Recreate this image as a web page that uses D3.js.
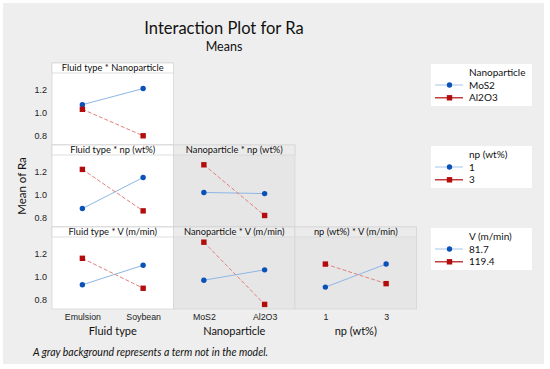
<!DOCTYPE html>
<html>
<head>
<meta charset="utf-8">
<script src="https://cdn.jsdelivr.net/npm/d3@7"></script>
<style>
  body { margin: 0; background: #fff; }
  svg { display: block; font-family: Lato, "Open Sans", sans-serif; }
</style>
</head>
<body>
<svg id="chart" width="550" height="369"></svg>
<script>
// factor levels
const fluidTypes = ["Emulsion", "Soybean"];
const nanoparticles = ["MoS2", "Al2O3"];
const npLevels = ["1", "3"];
const speedLevels = ["81.7", "119.4"];
const yTicks = [0.8, 1.0, 1.2];

// means (one array per trace, in x-level order)
const fluidByNano = { MoS2: [1.07, 1.21], Al2O3: [1.03, 0.80] };
const fluidByNp = { "1": [0.88, 1.15], "3": [1.22, 0.86] };
const fluidBySpeed = { "81.7": [0.93, 1.10], "119.4": [1.16, 0.90] };
const nanoByNp = { "1": [1.02, 1.01], "3": [1.26, 0.82] };
const nanoBySpeed = { "81.7": [0.97, 1.06], "119.4": [1.30, 0.76] };
const npBySpeed = { "81.7": [0.91, 1.11], "119.4": [1.11, 0.94] };

const panels = [
  { row: 0, col: 0, title: "Fluid type * Nanoparticle", x: fluidTypes, traces: nanoparticles, data: fluidByNano, inModel: true },
  { row: 1, col: 0, title: "Fluid type * np (wt%)", x: fluidTypes, traces: npLevels, data: fluidByNp, inModel: true },
  { row: 2, col: 0, title: "Fluid type * V (m/min)", x: fluidTypes, traces: speedLevels, data: fluidBySpeed, inModel: true },
  { row: 1, col: 1, title: "Nanoparticle * np (wt%)", x: nanoparticles, traces: npLevels, data: nanoByNp, inModel: false },
  { row: 2, col: 1, title: "Nanoparticle * V (m/min)", x: nanoparticles, traces: speedLevels, data: nanoBySpeed, inModel: false },
  { row: 2, col: 2, title: "np (wt%) * V (m/min)", x: npLevels, traces: speedLevels, data: npBySpeed, inModel: false }
];

const legends = [
  { row: 0, title: "Nanoparticle", levels: nanoparticles },
  { row: 1, title: "np (wt%)", levels: npLevels },
  { row: 2, title: "V (m/min)", levels: speedLevels }
];

const colLabels = ["Fluid type", "Nanoparticle", "np (wt%)"];

const LAYOUT = {
  left: 52, top: 63, colW: 121.5, rowH: 82, strip: 10,
  legendX: 431, legendW: 101, legendH: 42
};
const STYLE = [
  { color: "#0a52b8", line: "#8db6e6", dash: null, shape: "circle" },
  { color: "#b30c0c", line: "#e2807f", dash: "4,2", shape: "square" }
];

const svg = d3.select("#chart");
svg.append("rect").attr("x", 3).attr("y", 3).attr("width", 541).attr("height", 361)
  .attr("fill", "#eeeeee");

svg.append("text").attr("x", 224).attr("y", 34).attr("text-anchor", "middle")
  .attr("font-size", 16.5).attr("fill", "#111").text("Interaction Plot for Ra");
svg.append("text").attr("x", 224).attr("y", 50.5).attr("text-anchor", "middle")
  .attr("font-size", 12.5).attr("fill", "#111").text("Means");

svg.append("text").attr("transform", "translate(26,186) rotate(-90)")
  .attr("text-anchor", "middle").attr("font-size", 11.5).attr("fill", "#111").text("Mean of Ra");

const plotH = LAYOUT.rowH - LAYOUT.strip;

function drawMarker(g, shape, x, y, color) {
  if (shape === "circle") {
    g.append("circle").attr("cx", x).attr("cy", y).attr("r", 2.7).attr("fill", color);
  } else {
    g.append("rect").attr("x", x - 2.7).attr("y", y - 2.7).attr("width", 5.4).attr("height", 5.4)
      .attr("fill", color);
  }
}

panels.forEach(p => {
  const x0 = LAYOUT.left + p.col * LAYOUT.colW;
  const y0 = LAYOUT.top + p.row * LAYOUT.rowH;
  const g = svg.append("g").attr("transform", `translate(${x0},${y0})`);

  // strip + plot area
  g.append("rect").attr("width", LAYOUT.colW).attr("height", LAYOUT.rowH)
    .attr("fill", p.inModel ? "#ffffff" : "#e6e6e6").attr("stroke", "#d6d6d6").attr("stroke-width", 0.8);
  g.append("rect").attr("width", LAYOUT.colW).attr("height", LAYOUT.strip)
    .attr("fill", p.inModel ? "#ffffff" : "#ebebeb").attr("stroke", "#d6d6d6").attr("stroke-width", 0.8);
  g.append("text").attr("x", LAYOUT.colW / 2).attr("y", LAYOUT.strip - 1.8)
    .attr("text-anchor", "middle").attr("font-size", 9.3).attr("fill", "#111").text(p.title);

  const x = d3.scalePoint().domain(p.x).range([0, LAYOUT.colW]).padding(0.5);
  const y = d3.scaleLinear().domain([0.72, 1.345]).range([LAYOUT.strip + plotH, LAYOUT.strip]);

  if (p.col === 0) {
    const ax = g.append("g").call(d3.axisLeft(y).tickValues(yTicks).tickFormat(d3.format(".1f")).tickSize(0).tickPadding(5));
    ax.select(".domain").remove();
    ax.selectAll("text").attr("font-size", 9).attr("fill", "#222").attr("font-family", null);
  }
  if (p.row === 2) {
    const ax = g.append("g").attr("transform", `translate(0,${LAYOUT.rowH})`)
      .call(d3.axisBottom(x).tickSize(0).tickPadding(5));
    ax.select(".domain").remove();
    ax.selectAll("text").attr("font-size", 8.8).attr("fill", "#222").attr("font-family", null);
  }

  const line = d3.line().x((d, i) => x(p.x[i])).y(d => y(d));
  p.traces.forEach((t, ti) => {
    const s = STYLE[ti];
    g.append("path").attr("d", line(p.data[t])).attr("fill", "none")
      .attr("stroke", s.line).attr("stroke-width", 1).attr("stroke-dasharray", s.dash);
  });
  p.traces.forEach((t, ti) => {
    const s = STYLE[ti];
    p.data[t].forEach((v, i) => drawMarker(g, s.shape, x(p.x[i]), y(v), s.color));
  });
});

colLabels.forEach((label, i) => {
  svg.append("text").attr("x", LAYOUT.left + (i + 0.5) * LAYOUT.colW).attr("y", 335)
    .attr("text-anchor", "middle").attr("font-size", 11).attr("fill", "#111").text(label);
});

legends.forEach(l => {
  const y0 = LAYOUT.top + 1 + l.row * LAYOUT.rowH;
  const g = svg.append("g").attr("transform", `translate(${LAYOUT.legendX},${y0})`);
  g.append("rect").attr("width", LAYOUT.legendW).attr("height", LAYOUT.legendH).attr("fill", "#fff");
  g.append("text").attr("x", 38).attr("y", 12).attr("font-size", 10).attr("fill", "#111").text(l.title);
  l.levels.forEach((lev, i) => {
    const s = STYLE[i];
    const yy = 21 + i * 12.8;
    g.append("line").attr("x1", 4).attr("x2", 32).attr("y1", yy).attr("y2", yy)
      .attr("stroke", i === 0 ? s.line : s.color).attr("stroke-width", i === 0 ? 0.8 : 1.2);
    drawMarker(g, s.shape, 18.5, yy, s.color);
    g.append("text").attr("x", 38).attr("y", yy + 3.5).attr("font-size", 10).attr("fill", "#111").text(lev);
  });
});

svg.append("text").attr("x", 33).attr("y", 356).attr("font-size", 10.5).attr("font-style", "italic")
  .attr("fill", "#111").text("A gray background represents a term not in the model.");
</script>
</body>
</html>
